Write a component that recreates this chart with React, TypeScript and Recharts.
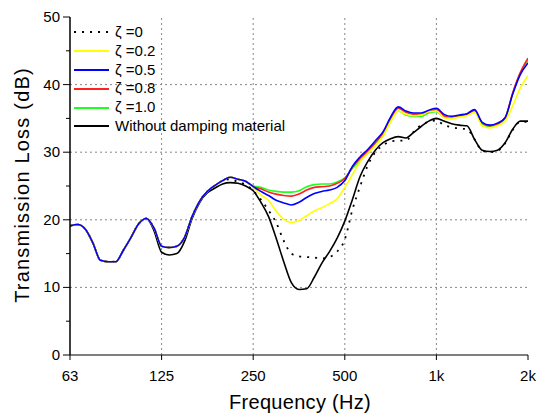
import React from 'react';
import { LineChart, Line, XAxis, YAxis, ReferenceLine } from 'recharts';

// 1/12-octave band centre frequencies (Hz)
const freqs = [
  62.5, 66.2, 70.2, 74.3, 78.7, 83.4, 88.4, 93.6, 99.2, 105.1, 111.4, 118.0,
  125, 132.4, 140.3, 148.7, 157.5, 166.9, 176.8, 187.3, 198.4, 210.2, 222.7, 236.0,
  250, 264.9, 280.6, 297.3, 315.0, 333.7, 353.6, 374.6, 396.9, 420.4, 445.4, 471.9,
  500, 529.7, 561.2, 594.6, 630.0, 667.4, 707.1, 749.2, 793.7, 840.9, 890.9, 943.9,
  1000, 1059.5, 1122.5, 1189.2, 1259.9, 1334.8, 1414.2, 1498.3, 1587.4, 1681.8, 1781.8, 1887.7,
  2000,
];

const zeta0 = [
  19.1, 19.3, 18.6, 16.6, 14.0, 13.8, 13.8, 15.5, 17.4, 19.4, 20.2, 18.8,
  16.1, 15.9, 16.1, 17.4, 20.5, 22.8, 24.2, 25.1, 25.8, 26.0, 25.6, 25.2,
  24.3, 23.0, 21.4, 19.6, 16.9, 15.0, 14.6, 14.5, 14.4, 14.3, 14.5, 15.3,
  17.1, 21.5, 24.9, 28.0, 30.0, 31.0, 31.6, 31.7, 31.7, 33.0, 34.0, 34.5,
  34.7, 34.0, 33.7, 33.5, 33.4, 31.9, 30.2, 30.0, 30.2, 31.3, 33.3, 34.5,
  34.5,
];

const zeta02 = [
  19.1, 19.3, 18.6, 16.6, 14.0, 13.8, 13.8, 15.5, 17.4, 19.4, 20.2, 18.8,
  16.1, 15.9, 16.1, 17.4, 20.5, 22.8, 24.2, 25.1, 25.8, 26.3, 26.0, 25.7,
  24.8, 23.7, 22.9, 21.3, 20.1, 19.6, 19.9, 20.6, 21.3, 21.8, 22.4, 23.1,
  24.8, 26.7, 28.6, 29.8, 31.0, 32.4, 34.5, 36.1, 35.6, 35.4, 35.5, 36.0,
  36.1, 35.1, 35.0, 35.2, 35.4, 35.9, 33.9, 33.6, 33.9, 34.6, 36.9, 39.5,
  41.3,
];

const zeta05 = [
  19.1, 19.3, 18.6, 16.6, 14.0, 13.8, 13.8, 15.5, 17.4, 19.4, 20.2, 18.8,
  16.1, 15.9, 16.1, 17.4, 20.5, 22.8, 24.2, 25.1, 25.8, 26.3, 26.0, 25.7,
  24.9, 24.2, 23.6, 22.9, 22.5, 22.2, 22.6, 23.3, 23.9, 24.2, 24.4, 24.8,
  25.8, 27.9, 29.3, 30.4, 31.7, 33.0, 35.2, 36.7, 36.1, 35.8, 35.8, 36.2,
  36.5, 35.6, 35.3, 35.5, 35.7, 36.3, 34.4, 34.0, 34.3, 35.1, 38.6, 41.5,
  43.2,
];

const zeta08 = [
  19.1, 19.3, 18.6, 16.6, 14.0, 13.8, 13.8, 15.5, 17.4, 19.4, 20.2, 18.8,
  16.1, 15.9, 16.1, 17.4, 20.5, 22.8, 24.2, 25.1, 25.8, 26.3, 26.0, 25.7,
  24.9, 24.6, 24.1, 23.8, 23.6, 23.5, 23.8, 24.4, 24.8, 24.9, 25.0, 25.4,
  26.1, 27.8, 29.1, 30.2, 31.4, 32.8, 35.0, 36.5, 35.9, 35.6, 35.6, 36.0,
  36.3, 35.4, 35.1, 35.4, 35.6, 36.2, 34.3, 33.9, 34.2, 35.1, 38.8, 41.8,
  43.9,
];

const zeta10 = [
  19.1, 19.3, 18.6, 16.6, 14.0, 13.8, 13.8, 15.5, 17.4, 19.4, 20.2, 18.8,
  16.1, 15.9, 16.1, 17.4, 20.5, 22.8, 24.2, 25.1, 25.8, 26.3, 26.0, 25.7,
  25.0, 24.8, 24.4, 24.2, 24.1, 24.1, 24.3, 24.9, 25.2, 25.3, 25.3, 25.6,
  26.2, 27.6, 28.8, 29.9, 31.2, 32.5, 34.6, 36.1, 35.5, 35.3, 35.3, 35.8,
  36.0, 35.2, 35.0, 35.3, 35.5, 36.1, 34.2, 33.8, 34.1, 35.0, 38.7, 41.7,
  43.6,
];

const without = [
  19.1, 19.3, 18.6, 16.6, 14.0, 13.8, 13.8, 15.5, 17.4, 19.4, 20.2, 18.4,
  15.2, 14.8, 15.0, 16.8, 20.2, 22.6, 24.0, 24.7, 25.3, 25.5, 25.4, 25.0,
  24.3, 22.6, 20.5, 17.3, 13.8, 10.7, 9.7, 9.8, 11.5, 13.6, 15.3, 17.3,
  19.8, 23.0, 26.4, 28.6, 30.3, 31.4, 32.0, 32.3, 32.1, 32.9, 33.8, 34.6,
  35.0, 34.6, 34.2, 34.0, 33.9, 31.9, 30.3, 30.1, 30.3, 31.4, 33.4, 34.6,
  34.6,
];

const xTicks = [62.5, 125, 250, 500, 1000, 2000];
const xTickLabels = ['63', '125', '250', '500', '1k', '2k'];
const yTicks = [0, 5, 10, 15, 20, 25, 30, 35, 40, 45, 50];
const yGrid = [10, 20, 30, 40];

const data = freqs.map((f, i) => ({
  f,
  z0: zeta0[i],
  z02: zeta02[i],
  z05: zeta05[i],
  z08: zeta08[i],
  z10: zeta10[i],
  wo: without[i],
}));

const FONT = '"Liberation Sans", Arial, sans-serif';

const legendItems = [
  { label: '\u03B6 =0', color: '#000', dash: '2 6' },
  { label: '\u03B6 =0.2', color: '#FFFF00' },
  { label: '\u03B6 =0.5', color: '#0000FF' },
  { label: '\u03B6 =0.8', color: '#FF2020' },
  { label: '\u03B6 =1.0', color: '#20FF20' },
  { label: 'Without damping material', color: '#000' },
];

const LeftTick = (props: any) => {
  const { x, y, payload } = props;
  const major = payload.value % 10 === 0;
  return (
    <g>
      <line x1={x} x2={x - (major ? 7 : 4)} y1={y} y2={y} stroke="#000" strokeWidth={1} />
      {major && (
        <text x={x - 10} y={y} dy={5} textAnchor="end" fontSize={15} fontFamily={FONT} fill="#000">
          {payload.value}
        </text>
      )}
    </g>
  );
};

const RightTick = (props: any) => {
  const { x, y, payload } = props;
  const major = payload.value % 10 === 0;
  if (payload.value === 0 || payload.value === 50) return <g />;
  return <line x1={x} x2={x - (major ? 7 : 5)} y1={y} y2={y} stroke="#000" strokeWidth={1} />;
};

const BottomTick = (props: any) => {
  const { x, y, payload, index } = props;
  return (
    <g>
      <line x1={x} x2={x} y1={y} y2={y + 5} stroke="#000" strokeWidth={1} />
      <text x={x} y={y} dy={26} textAnchor="middle" fontSize={15} fontFamily={FONT} fill="#000">
        {xTickLabels[index] ?? payload.value}
      </text>
    </g>
  );
};

export default function App() {
  return (
    <div style={{ position: 'absolute', left: 0, top: 0, width: 538, height: 419, background: '#fff', fontFamily: FONT }}>
      <LineChart width={538} height={419} data={data} margin={{ top: 17, right: 10, bottom: 24, left: 10 }}>
        <XAxis
          xAxisId="bottom"
          dataKey="f"
          type="number"
          scale="log"
          domain={[62.5, 2000]}
          ticks={xTicks}
          allowDataOverflow
          height={40}
          tickSize={0}
          tickMargin={0}
          tick={<BottomTick />}
          axisLine={{ stroke: '#000', strokeWidth: 1.2 }}
          interval={0}
        />
        <XAxis xAxisId="top" orientation="top" dataKey="f" type="number" scale="log" domain={[62.5, 2000]} height={0} tick={false} tickLine={false} axisLine={{ stroke: '#000', strokeWidth: 1.2 }} />
        <YAxis
          yAxisId="left"
          type="number"
          domain={[0, 50]}
          ticks={yTicks}
          width={60}
          tickSize={0}
          tickMargin={0}
          tick={<LeftTick />}
          axisLine={{ stroke: '#000', strokeWidth: 1.5 }}
          interval={0}
        />
        <YAxis
          yAxisId="right"
          orientation="right"
          type="number"
          domain={[0, 50]}
          ticks={yTicks}
          width={0}
          tickSize={0}
          tickMargin={0}
          tick={<RightTick />}
          axisLine={{ stroke: '#444', strokeWidth: 2 }}
          interval={0}
        />
        {yGrid.map((v) => (
          <ReferenceLine key={'h' + v} xAxisId="bottom" yAxisId="left" y={v} stroke="#888" strokeDasharray="2 3" />
        ))}
        {xTicks.slice(1, -1).map((v) => (
          <ReferenceLine key={'v' + v} xAxisId="bottom" yAxisId="left" x={v} stroke="#888" strokeDasharray="2 3" />
        ))}
        <Line xAxisId="bottom" yAxisId="left" type="monotone" dataKey="z0" stroke="#000" strokeWidth={1.8} strokeDasharray="2 6" dot={false} isAnimationActive={false} />
        <Line xAxisId="bottom" yAxisId="left" type="monotone" dataKey="wo" stroke="#000" strokeWidth={1.6} dot={false} isAnimationActive={false} />
        <Line xAxisId="bottom" yAxisId="left" type="monotone" dataKey="z10" stroke="#20FF20" strokeWidth={1.6} dot={false} isAnimationActive={false} />
        <Line xAxisId="bottom" yAxisId="left" type="monotone" dataKey="z08" stroke="#FF2020" strokeWidth={1.6} dot={false} isAnimationActive={false} />
        <Line xAxisId="bottom" yAxisId="left" type="monotone" dataKey="z02" stroke="#FFFF00" strokeWidth={1.6} dot={false} isAnimationActive={false} />
        <Line xAxisId="bottom" yAxisId="left" type="monotone" dataKey="z05" stroke="#0000FF" strokeWidth={1.6} dot={false} isAnimationActive={false} />
      </LineChart>

      <div style={{ position: 'absolute', left: 73, top: 23, fontSize: 15, lineHeight: '18.8px', color: '#000' }}>
        {legendItems.map((it) => (
          <div key={it.label} style={{ display: 'flex', alignItems: 'center', height: 18.8 }}>
            <svg width={36} height={6} style={{ marginRight: 6 }}>
              <line x1={1} x2={36} y1={3} y2={3} stroke={it.color} strokeWidth={1.8} strokeDasharray={it.dash} />
            </svg>
            <span style={{ whiteSpace: 'nowrap' }}>{it.label}</span>
          </div>
        ))}
      </div>

      <div style={{ position: 'absolute', left: 0, width: 538, top: 391, textAlign: 'center', paddingLeft: 62, boxSizing: 'border-box', fontSize: 20, letterSpacing: 0.3, whiteSpace: 'nowrap' }}>
        Frequency (Hz)
      </div>
      <div
        style={{
          position: 'absolute',
          left: 22,
          top: 185,
          transform: 'translate(-50%, -50%) rotate(-90deg)',
          fontSize: 20,
          letterSpacing: 1.2,
          whiteSpace: 'nowrap',
        }}
      >
        Transmission Loss (dB)
      </div>
    </div>
  );
}
